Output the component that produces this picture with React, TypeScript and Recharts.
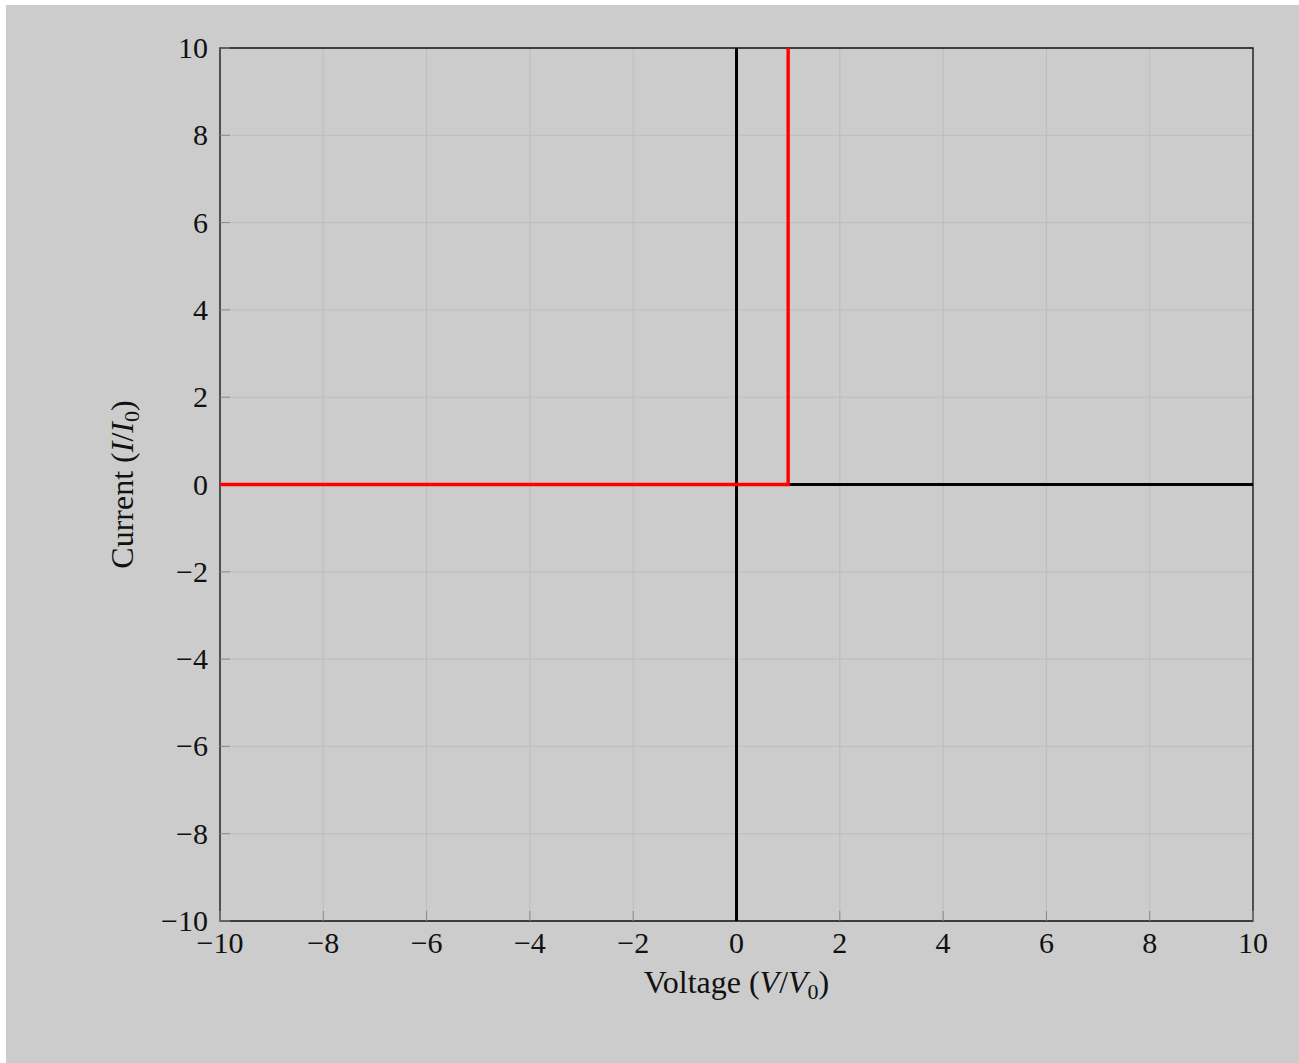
import React from "react";
import { LineChart, Line, XAxis, YAxis, CartesianGrid, ReferenceArea } from "recharts";

const xTicks = [-10, -8, -6, -4, -2, 0, 2, 4, 6, 8, 10];
const yTicks = [-10, -8, -6, -4, -2, 0, 2, 4, 6, 8, 10];
const verticalAxisLine = [
  { v: 0, i: -10 },
  { v: 0, i: 10 },
];
const horizontalAxisLine = [
  { v: -10, i: 0 },
  { v: 10, i: 0 },
];
const diodeCurve = [
  { v: -10, i: 0 },
  { v: 1, i: 0 },
  { v: 1, i: 10 },
];

const FONT = "'Liberation Serif', 'DejaVu Serif', serif";
const FS = 30;
const LFS = 32;
const TICK_LEN = 10;
const TICK_COLOR = "#8a8a8a";
const fmt = (n: number) => (n < 0 ? "\u2212" + Math.abs(n) : String(n));

const X_MARGIN = 11;
const Y_MARGIN = 12;

const BottomTick = (props: any) => {
  const { x, y, payload } = props;
  const axisY = y - X_MARGIN;
  return (
    <g>
      {payload.value !== 0 && (
        <line x1={x} x2={x} y1={axisY} y2={axisY - TICK_LEN} stroke={TICK_COLOR} strokeWidth={1} />
      )}
      <text x={x} y={axisY + 32} textAnchor="middle" fontFamily={FONT} fontSize={FS} fill="#111">
        {fmt(payload.value)}
      </text>
    </g>
  );
};

const LeftTick = (props: any) => {
  const { x, y, payload } = props;
  const axisX = x + Y_MARGIN;
  return (
    <g>
      {payload.value !== 0 && (
        <line x1={axisX} x2={axisX + TICK_LEN} y1={y} y2={y} stroke={TICK_COLOR} strokeWidth={1} />
      )}
      <text x={x} y={y + 10} textAnchor="end" fontFamily={FONT} fontSize={FS} fill="#111">
        {fmt(payload.value)}
      </text>
    </g>
  );
};

const XLabel = (props: any) => {
  const vb = props.viewBox || {};
  const cx = vb.x + vb.width / 2;
  const cy = vb.y + 72;
  return (
    <text x={cx} y={cy} textAnchor="middle" fontFamily={FONT} fontSize={LFS} fill="#111">
      Voltage (<tspan fontStyle="italic">V</tspan>/<tspan fontStyle="italic">V</tspan>
      <tspan fontSize={22} dy={6}>0</tspan>
      <tspan dy={-6}>)</tspan>
    </text>
  );
};

const YLabel = (props: any) => {
  const vb = props.viewBox || {};
  const cx = 127;
  const cy = vb.y + vb.height / 2;
  return (
    <text
      x={cx}
      y={cy}
      transform={`rotate(-90 ${cx} ${cy})`}
      textAnchor="middle"
      fontFamily={FONT}
      fontSize={LFS}
      fill="#111"
    >
      Current (<tspan fontStyle="italic">I</tspan>/<tspan fontStyle="italic">I</tspan>
      <tspan fontSize={22} dy={6}>0</tspan>
      <tspan dy={-6}>)</tspan>
    </text>
  );
};

const innerXTicks = xTicks.filter((t) => t !== 0);
const innerYTicks = yTicks.filter((t) => t !== 0);

export default function App() {
  return (
    <div
      style={{
        position: "absolute",
        left: 6,
        top: 5,
        width: 1293,
        height: 1058,
        background: "#cccccc",
      }}
    >
      <LineChart
        width={1293}
        height={1058}
        margin={{ top: 43, right: 46, left: 0, bottom: 0 }}
      >
        <CartesianGrid
          xAxisId="main"
          yAxisId="main"
          stroke="#bdbdbd"
          strokeWidth={1}
          horizontalValues={yTicks}
          verticalValues={xTicks}
        />
        <XAxis
          xAxisId="main"
          dataKey="v"
          type="number"
          domain={[-10, 10]}
          ticks={xTicks}
          allowDuplicatedCategory={false}
          height={142}
          tickSize={0}
          tickMargin={X_MARGIN}
          tickLine={false}
          tick={<BottomTick />}
          axisLine={false}
          label={<XLabel />}
        />
        <XAxis
          xAxisId="top"
          orientation="top"
          mirror
          dataKey="v"
          type="number"
          domain={[-10, 10]}
          ticks={innerXTicks}
          height={1}
          tickSize={TICK_LEN}
          tick={false}
          tickLine={{ stroke: TICK_COLOR }}
          axisLine={false}
        />
        <YAxis
          yAxisId="main"
          dataKey="i"
          type="number"
          domain={[-10, 10]}
          ticks={yTicks}
          width={214}
          tickSize={0}
          tickMargin={Y_MARGIN}
          tickLine={false}
          tick={<LeftTick />}
          axisLine={false}
          label={<YLabel />}
        />
        <YAxis
          yAxisId="right"
          orientation="right"
          mirror
          dataKey="i"
          type="number"
          domain={[-10, 10]}
          ticks={innerYTicks}
          width={1}
          tickSize={TICK_LEN}
          tick={false}
          tickLine={{ stroke: TICK_COLOR }}
          axisLine={false}
        />
        <ReferenceArea
          xAxisId="main"
          yAxisId="main"
          x1={-10}
          x2={10}
          y1={-10}
          y2={10}
          fill="none"
          fillOpacity={0}
          stroke="#111"
          strokeWidth={1.3}
          ifOverflow="visible"
        />
        <Line
          xAxisId="top"
          yAxisId="right"
          data={horizontalAxisLine}
          dataKey="i"
          stroke="none"
          strokeWidth={0}
          dot={false}
          activeDot={false}
          legendType="none"
          type="linear"
          isAnimationActive={false}
        />
        <Line
          xAxisId="main"
          yAxisId="main"
          data={verticalAxisLine}
          dataKey="i"
          stroke="#000"
          strokeWidth={3}
          dot={false}
          type="linear"
          isAnimationActive={false}
        />
        <Line
          xAxisId="main"
          yAxisId="main"
          data={horizontalAxisLine}
          dataKey="i"
          stroke="#000"
          strokeWidth={3}
          dot={false}
          type="linear"
          isAnimationActive={false}
        />
        <Line
          xAxisId="main"
          yAxisId="main"
          data={diodeCurve}
          dataKey="i"
          stroke="#ff0000"
          strokeWidth={3.4}
          dot={false}
          type="linear"
          isAnimationActive={false}
        />
      </LineChart>
    </div>
  );
}
